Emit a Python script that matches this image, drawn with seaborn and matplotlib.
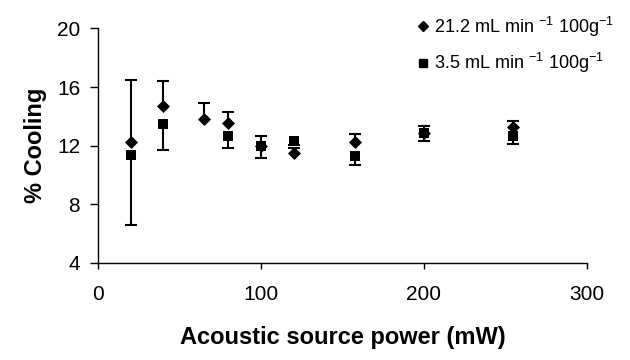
import matplotlib
matplotlib.use("Agg")
import matplotlib.pyplot as plt
import seaborn as sns
import pandas as pd
from matplotlib.lines import Line2D

# Data
power_hi = [20, 40, 65, 80, 100, 120, 158, 200, 255]
cool_hi = [12.26, 14.72, 13.79, 13.52, 12.0, 11.51, 12.26, 12.85, 13.28]
err_hi = [4.2, 1.7, 1.1, 0.8, 0.65, 0.3, 0.55, 0.5, 0.4]   # upper error only

power_lo = [20, 40, 80, 100, 120, 158, 200, 255]
cool_lo = [11.35, 13.47, 12.67, 11.97, 12.31, 11.28, 12.83, 12.67]
err_lo = [4.8, 1.8, 0.85, 0.8, 0.3, 0.6, 0.5, 0.55]         # lower error only

label_hi = "21.2 mL min $^{-1}$ 100g$^{-1}$"
label_lo = "3.5 mL min $^{-1}$ 100g$^{-1}$"
x_ticks = [0, 100, 200, 300]
y_ticks = [4, 8, 12, 16, 20]

sns.set_style("ticks")
plt.rcParams['font.family'] = ['Liberation Sans', 'DejaVu Sans']
plt.rcParams['mathtext.fontset'] = 'custom'
plt.rcParams['mathtext.rm'] = 'Liberation Sans'
plt.rcParams['mathtext.it'] = 'Liberation Sans'
plt.rcParams['text.color'] = 'black'
plt.rcParams['axes.labelcolor'] = 'black'
plt.rcParams['xtick.color'] = 'black'
plt.rcParams['ytick.color'] = 'black'

df_hi = pd.DataFrame({"power": power_hi, "cool": cool_hi, "err": err_hi})
df_lo = pd.DataFrame({"power": power_lo, "cool": cool_lo, "err": err_lo})
df_hi["end"] = df_hi["cool"] + df_hi["err"]
df_lo["end"] = df_lo["cool"] - df_lo["err"]

fig = plt.figure(figsize=(6.3, 3.6), dpi=100)
ax = fig.add_axes([0.156, 0.270, 0.775, 0.651])

# one-sided error bars: stems + caps at the far end only
for d in (df_hi, df_lo):
    ax.vlines(d["power"], d["cool"], d["end"], color="black", linewidth=1.5, zorder=2)
    ax.plot(d["power"], d["end"], linestyle="none", marker="_", markersize=8,
            markeredgewidth=1.5, color="black", zorder=2)

sns.scatterplot(data=df_hi, x="power", y="cool", marker="D", s=44, color="black",
                edgecolor="black", linewidth=0, ax=ax, zorder=3)
sns.scatterplot(data=df_lo, x="power", y="cool", marker="s", s=50, color="black",
                edgecolor="black", linewidth=0, ax=ax, zorder=4)

ax.set_xlim(0, 300)
ax.set_ylim(4, 20)
ax.set_xticks(x_ticks)
ax.set_yticks(y_ticks)
ax.tick_params(axis="both", labelsize=15, direction="out", width=1,
               color="black", labelcolor="black")
ax.tick_params(axis="y", length=6, pad=7)
ax.tick_params(axis="x", length=4, pad=12)
for s in ["top", "right"]:
    ax.spines[s].set_visible(False)
for s in ["left", "bottom"]:
    ax.spines[s].set_color("black")
    ax.spines[s].set_linewidth(1)

ax.set_xlabel("Acoustic source power (mW)", fontsize=17, fontweight="bold",
              labelpad=16, color="black")
ax.set_ylabel("% Cooling", fontsize=17, fontweight="bold", labelpad=7, color="black")

handles = [
    Line2D([], [], marker="D", color="black", linestyle="none", markersize=5),
    Line2D([], [], marker="s", color="black", linestyle="none", markersize=6),
]
fig.legend(handles, [label_hi, label_lo], loc="upper right",
           bbox_to_anchor=(1.0, 1.005), frameon=False, fontsize=13,
           handletextpad=0.1, handlelength=1.0, labelspacing=0.7)

fig.savefig("out.png", dpi=100)
